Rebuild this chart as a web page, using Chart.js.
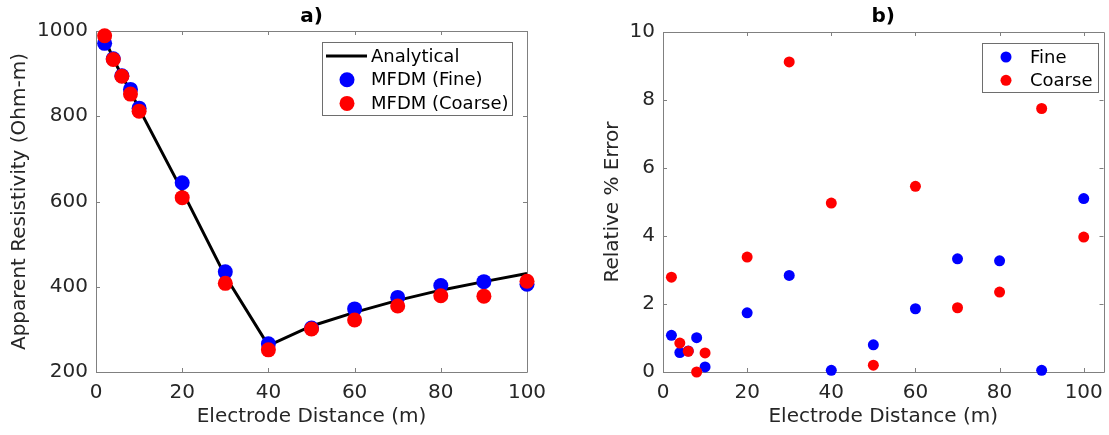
<!DOCTYPE html>
<html>
<head>
<meta charset="utf-8">
<script src="https://cdn.jsdelivr.net/npm/chart.js@4.4.1/dist/chart.umd.min.js"></script>
<style>
  html, body { margin: 0; padding: 0; background: #fff; }
  #wrap { position: relative; width: 1109px; height: 435px; }
  canvas { position: absolute; top: 0; }
  #chartA { left: 0; }
  #chartB { left: 560px; }
</style>
</head>
<body>
<div id="wrap">
  <canvas id="chartA" width="560" height="435"></canvas>
  <canvas id="chartB" width="549" height="435"></canvas>
</div>
<script>
// electrode spacing (m)
const distances = [2, 4, 6, 8, 10, 20, 30, 40, 50, 60, 70, 80, 90, 100];

// apparent resistivity (Ohm-m)
const analyticalRho = [982, 935, 895, 858, 818, 625, 425, 262, 308, 340, 368, 392, 412, 431];
const fineRho       = [971, 935, 895, 863, 819, 644, 435, 266, 303, 348, 375, 403, 412, 406];
const coarseRho     = [989, 933, 894, 852, 812, 609, 408, 252, 301, 322, 355, 379, 378, 413];

// relative % error
const fineErr   = [1.08, 0.57, 0.62, 1.01, 0.15, 1.74, 2.84, 0.05, 0.80, 1.86, 3.33, 3.27, 0.05, 5.10];
const coarseErr = [2.79, 0.85, 0.61, 0.00, 0.56, 3.38, 9.12, 4.97, 0.20, 5.46, 1.89, 2.35, 7.75, 3.97];

const xTicks = [0, 20, 40, 60, 80, 100];

const FONT = "'DejaVu Sans', sans-serif";
const TEXT = '#262626';
const BLUE = '#0000ff';
const RED = '#ff0000';

const toPoints = (ys) => distances.map((d, i) => ({ x: d, y: ys[i] }));

// matlab style box with inward ticks, panel label and boxed legend
const matlabAxes = {
    id: 'matlabAxes',
    beforeDatasetsDraw(chart) {
        const { ctx, chartArea: a, scales } = chart;
        const t = 4;
        ctx.save();
        ctx.strokeStyle = '#808080';
        ctx.lineWidth = 1;
        ctx.beginPath();
        ctx.rect(Math.round(a.left) + 0.5, Math.round(a.top) + 0.5,
            Math.round(a.right - a.left), Math.round(a.bottom - a.top));
        scales.x.ticks.forEach(tk => {
            const px = Math.round(scales.x.getPixelForValue(tk.value)) + 0.5;
            ctx.moveTo(px, a.bottom); ctx.lineTo(px, a.bottom - t);
            ctx.moveTo(px, a.top); ctx.lineTo(px, a.top + t);
        });
        scales.y.ticks.forEach(tk => {
            const py = Math.round(scales.y.getPixelForValue(tk.value)) + 0.5;
            ctx.moveTo(a.left, py); ctx.lineTo(a.left + t, py);
            ctx.moveTo(a.right, py); ctx.lineTo(a.right - t, py);
        });
        ctx.stroke();
        ctx.restore();
    },
    afterDraw(chart, args, opts) {
        const { ctx, chartArea: a } = chart;
        ctx.save();
        ctx.fillStyle = '#000';
        ctx.font = 'bold 20px ' + FONT;
        ctx.textAlign = 'center';
        ctx.textBaseline = 'middle';
        ctx.fillText(opts.panel, (a.left + a.right) / 2, 17);

        const L = opts.legend;
        ctx.fillStyle = '#fff';
        ctx.fillRect(L.x, L.y, L.w, L.h);
        ctx.strokeStyle = '#6e6e6e';
        ctx.lineWidth = 1;
        ctx.strokeRect(L.x + 0.5, L.y + 0.5, L.w, L.h);

        ctx.font = '18px ' + FONT;
        ctx.textAlign = 'left';
        chart.data.datasets.forEach((ds, i) => {
            const y = L.first + i * L.rowH;
            if (ds.showLine) {
                ctx.strokeStyle = ds.borderColor;
                ctx.lineWidth = ds.borderWidth;
                ctx.beginPath();
                ctx.moveTo(L.symX - 21, y);
                ctx.lineTo(L.symX + 20, y);
                ctx.stroke();
            } else {
                ctx.fillStyle = ds.pointBackgroundColor;
                ctx.beginPath();
                ctx.arc(L.symX, y, L.r, 0, Math.PI * 2);
                ctx.fill();
            }
            ctx.fillStyle = '#000';
            ctx.fillText(ds.label, L.textX, y + 1);
        });
        ctx.restore();
    }
};

const axisFont = { family: FONT, size: 20 };
const plainNum = (v) => String(v);

function xScale(max) {
    return {
        type: 'linear', min: 0, max: max,
        grid: { display: false, drawTicks: false },
        border: { display: false },
        afterBuildTicks: (s) => { s.ticks = xTicks.map(v => ({ value: v })); },
        ticks: { color: TEXT, font: axisFont, padding: 9, maxRotation: 0, callback: plainNum },
        title: { display: true, text: 'Electrode Distance (m)', color: TEXT, font: axisFont, padding: { top: 0, bottom: 6 } },
        afterFit: (s) => { s.height = 63; s.paddingLeft = 0; s.paddingRight = 0; }
    };
}

function yScale(min, max, step, label, width, titlePad) {
    return {
        type: 'linear', min: min, max: max,
        grid: { display: false, drawTicks: false },
        border: { display: false },
        ticks: { stepSize: step, color: TEXT, font: axisFont, padding: 8, callback: plainNum },
        title: { display: true, text: label, color: TEXT, font: axisFont, padding: { top: titlePad, bottom: 0 } },
        afterFit: (s) => { s.width = width; s.paddingTop = 0; s.paddingBottom = 0; }
    };
}

const dots = (label, ys, color, r, order) => ({
    label: label,
    data: toPoints(ys),
    showLine: false,
    pointRadius: r,
    pointBorderWidth: 0,
    pointBackgroundColor: color,
    pointBorderColor: color,
    backgroundColor: color,
    clip: false,
    order: order
});

new Chart(document.getElementById('chartA'), {
    type: 'scatter',
    data: {
        datasets: [
            {
                label: 'Analytical',
                data: toPoints(analyticalRho),
                showLine: true,
                borderColor: '#000',
                borderWidth: 3,
                pointRadius: 0,
                clip: false,
                order: 3
            },
            dots('MFDM (Fine)', fineRho, BLUE, 7.5, 2),
            dots('MFDM (Coarse)', coarseRho, RED, 7.5, 1)
        ]
    },
    options: {
        responsive: false,
        animation: false,
        events: [],
        layout: { padding: { top: 31, right: 33, left: 0, bottom: 0 } },
        scales: {
            x: xScale(100),
            y: yScale(200, 1000, 200, 'Apparent Resistivity (Ohm-m)', 96, 8)
        },
        plugins: {
            legend: { display: false },
            tooltip: { enabled: false },
            matlabAxes: {
                panel: 'a)',
                legend: { x: 322, y: 42, w: 190, h: 73, first: 56, rowH: 23.7, symX: 347, textX: 371, r: 7.5 }
            }
        }
    },
    plugins: [matlabAxes]
});

new Chart(document.getElementById('chartB'), {
    type: 'scatter',
    data: {
        datasets: [
            dots('Fine', fineErr, BLUE, 5.5, 2),
            dots('Coarse', coarseErr, RED, 5.5, 1)
        ]
    },
    options: {
        responsive: false,
        animation: false,
        events: [],
        layout: { padding: { top: 32, right: 1, left: 0, bottom: 0 } },
        scales: {
            x: xScale(104.7),
            y: yScale(0, 10, 2, 'Relative % Error', 103, 41)
        },
        plugins: {
            legend: { display: false },
            tooltip: { enabled: false },
            matlabAxes: {
                panel: 'b)',
                legend: { x: 422, y: 43, w: 116, h: 49, first: 57, rowH: 23.3, symX: 446, textX: 470, r: 5.5 }
            }
        }
    },
    plugins: [matlabAxes]
});
</script>
</body>
</html>
